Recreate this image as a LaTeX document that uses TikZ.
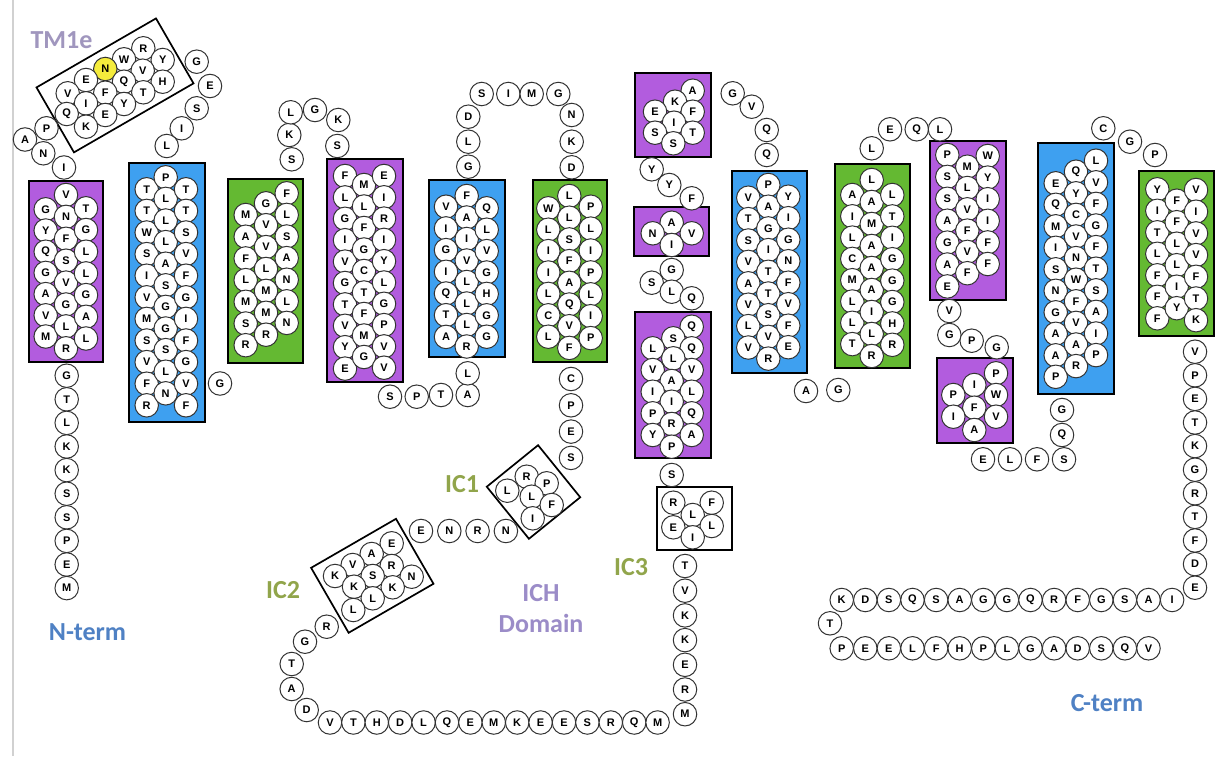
\documentclass[tikz,border=0pt]{standalone}
\usepackage{fontspec}
\setmainfont{Liberation Sans}
\newfontfamily\labfont{Carlito}
\definecolor{tmP}{RGB}{178,92,222}
\definecolor{tmB}{RGB}{62,160,240}
\definecolor{tmG}{RGB}{100,185,50}
\definecolor{hiY}{RGB}{245,236,60}
\definecolor{labPur}{RGB}{160,150,190}
\definecolor{labBlue}{RGB}{79,129,196}
\definecolor{labOlive}{RGB}{145,165,75}
\definecolor{labLav}{RGB}{155,140,200}
\tikzset{
 aa/.style={circle, draw=black!80, line width=1pt, fill=white, minimum size=23.5pt, inner sep=0pt, font=\fontsize{11}{11}\selectfont\bfseries},
 tmbox/.style={draw=black, line width=1.7pt, inner sep=0pt},
 lab/.style={font=\labfont\bfseries\fontsize{26}{26}\selectfont, inner sep=0pt},
}
\newcommand\rescol[5]{\foreach \l [count=\i from 0] in {#5} {\node[aa] (#1\i) at (#2,{#3+#4*\i}) {\l};}}
\newcommand\resrow[5]{\foreach \l [count=\i from 0] in {#5} {\node[aa] (#1\i) at ({#2+#4*\i},#3) {\l};}}
\newcommand\tmrect[6]{\node[tmbox, fill=#6, minimum width={#4pt-#2pt}, minimum height={#5pt-#3pt}] (#1) at ({(#2+#4)/2},{(#3+#5)/2}) {};}
\begin{document}
\begin{tikzpicture}[x=1pt,y=-1pt]
\useasboundingbox (0,0) rectangle (1225,762);
\fill[white] (0,0) rectangle (1225,762);
\draw[black!18, line width=2pt] (12.5,0) -- (12.5,756);
% ---------- boxes ----------
\tmrect{b1}{29}{181}{103}{362}{tmP}
\tmrect{b2}{129}{163}{205}{422}{tmB}
\tmrect{b3}{228}{179}{303}{363}{tmG}
\tmrect{b4}{327}{159}{403}{382}{tmP}
\tmrect{b5}{429}{180}{505}{357}{tmB}
\tmrect{b6}{533}{180}{607}{362}{tmG}
\tmrect{b6a}{635}{73}{711}{157}{tmP}
\tmrect{b6b}{634}{207}{709}{256}{tmP}
\tmrect{b6c}{635}{312}{711}{458}{tmP}
\tmrect{b7}{732}{171}{807}{373}{tmB}
\tmrect{b8}{835}{164}{910}{368}{tmG}
\tmrect{b9}{930}{141}{1006}{300}{tmP}
\tmrect{b9a}{937}{358}{1013}{443}{tmP}
\tmrect{b10}{1038}{143}{1114}{394}{tmB}
\tmrect{b11}{1139}{171}{1214}{336}{tmG}
\tmrect{bic3}{657}{487}{732}{550}{white}
\node[tmbox, fill=white, rotate=30, minimum width=138pt, minimum height=75pt] (btm1e) at (115,85.4) {};
\node[tmbox, fill=white, rotate=30, minimum width=98pt, minimum height=75pt] (bic2) at (372.3,575.8) {};
\node[tmbox, fill=white, rotate=39, minimum width=66pt, minimum height=67pt] (bic1) at (533.5,492) {};
% ---------- TM1e ----------
\node[aa] (e1) at (143.3,48.3) {R};
\node[aa] (e2) at (124,59.3) {W};
\node[aa] (e3) at (162.7,60) {Y};
\node[aa, fill=hiY] (e4) at (105.3,69) {N};
\node[aa] (e5) at (142.7,70.7) {V};
\node[aa] (e6) at (86,80) {E};
\node[aa] (e7) at (124,81.7) {Q};
\node[aa] (e8) at (162.7,81.7) {H};
\node[aa] (e9) at (67.7,93.3) {V};
\node[aa] (e10) at (105.3,92.7) {F};
\node[aa] (e11) at (143.3,92.3) {T};
\node[aa] (e12) at (86,103.3) {I};
\node[aa] (e13) at (124,104) {Y};
\node[aa] (e14) at (66.7,114) {Q};
\node[aa] (e15) at (105.3,115) {E};
\node[aa] (e16) at (86,126.7) {K};
\node[aa] (c1) at (25,139.5) {A};
\node[aa] (c2) at (46.5,128.3) {P};
\node[aa] (c3) at (43.3,153.3) {N};
\node[aa] (c4) at (64,167.5) {I};
\node[aa] (c5) at (196.7,61.7) {G};
\node[aa] (c6) at (210,86) {E};
\node[aa] (c7) at (196.7,108.3) {S};
\node[aa] (c8) at (181.7,128.3) {I};
\node[aa] (c9) at (166.7,146) {L};
% ---------- TM1 ----------
\rescol{t1L}{45.7}{209.3}{21.2}{G,Y,Q,G,A,V,M}
\rescol{t1C}{66}{195}{21.9}{V,N,F,S,V,G,L,R}
\rescol{t1R}{86}{208.3}{21.7}{T,G,L,L,G,A,L}
\rescol{nt}{66.7}{375.7}{23.6}{G,T,L,K,K,S,S,P,E,M}
% ---------- TM2 ----------
\rescol{t2L}{146.7}{189.3}{21.6}{T,T,W,S,I,V,M,S,V,F,R}
\rescol{t2C}{165.7}{177.3}{21.6}{P,L,L,L,A,S,G,G,S,L,N}
\rescol{t2R}{186}{189.3}{21.6}{T,T,S,V,F,G,I,F,G,V,F}
\node[aa] (c10) at (220,383.5) {G};
% ---------- TM3 ----------
\rescol{t3L}{245.7}{215}{21.7}{M,A,F,L,M,S,R}
\rescol{t3C}{266}{203.3}{21.9}{G,V,V,L,M,M,R}
\rescol{t3R}{286.7}{193.3}{21.6}{F,L,S,A,N,L,N}
\node[aa] (c11) at (291.7,159.3) {S};
\node[aa] (c12) at (289.3,135) {K};
\node[aa] (c13) at (290.7,112.3) {L};
\node[aa] (c14) at (315,110) {G};
\node[aa] (c15) at (338.3,120) {K};
\node[aa] (c16) at (337.3,146) {S};
% ---------- TM4 ----------
\rescol{t4L}{345}{176}{21.4}{F,L,G,I,V,G,T,V,Y,E}
\rescol{t4C}{364}{185}{21.5}{M,L,F,G,C,T,F,M,G}
\rescol{t4R}{384}{176}{21.3}{E,I,R,I,Y,L,G,P,V,V}
\node[aa] (c17) at (390,396.7) {S};
\node[aa] (c18) at (416.7,396.7) {P};
\node[aa] (c19) at (441,395) {T};
\node[aa] (c20) at (467.7,395) {A};
\node[aa] (c21) at (467.7,373.3) {L};
% ---------- TM5 ----------
\rescol{t5L}{446}{206.7}{21.7}{V,I,G,I,Q,T,A}
\rescol{t5C}{466.7}{196}{21.5}{F,A,I,V,L,L,L,R}
\rescol{t5R}{486.7}{208.3}{21.4}{Q,L,V,G,H,G,G}
\node[aa] (c22) at (468.3,166.7) {G};
\node[aa] (c23) at (468.3,141.7) {L};
\node[aa] (c24) at (468.3,116.7) {D};
\node[aa] (c25) at (481.7,94) {S};
\node[aa] (c26) at (508.3,94) {I};
\node[aa] (c27) at (531.7,94) {M};
\node[aa] (c28) at (558.3,94) {G};
\node[aa] (c29) at (571.7,115) {N};
\node[aa] (c30) at (571.7,141.7) {K};
\node[aa] (c31) at (571.7,167.3) {D};
% ---------- TM6 ----------
\rescol{t6L}{548.3}{208.3}{21.4}{W,L,I,I,L,C,L}
\rescol{t6C}{569.3}{196}{21.7}{L,L,S,F,A,Q,V,F}
\rescol{t6R}{590.7}{206.7}{21.9}{P,L,I,P,L,I,P}
\rescol{c6d}{571}{379}{26.3}{C,P,E,S}
% ---------- IC1 / IC2 ----------
\node[aa] (i1) at (526.7,476.7) {R};
\node[aa] (i2) at (546.7,483.3) {P};
\node[aa] (i3) at (507.3,490.7) {L};
\node[aa] (i4) at (531.7,496.7) {L};
\node[aa] (i5) at (551.7,505) {F};
\node[aa] (i6) at (532.7,518.3) {I};
\resrow{enrn}{421}{531}{28.3}{E,N,R,N}
\node[aa] (j1) at (391.7,543.3) {E};
\node[aa] (j2) at (371.7,554) {A};
\node[aa] (j3) at (352.7,565) {V};
\node[aa] (j4) at (391.7,566) {R};
\node[aa] (j5) at (335,576) {K};
\node[aa] (j6) at (372.7,576) {S};
\node[aa] (j7) at (411.7,576.7) {N};
\node[aa] (j8) at (354,586.7) {K};
\node[aa] (j9) at (392.7,587.3) {K};
\node[aa] (j10) at (372.7,598.3) {L};
\node[aa] (j11) at (353.3,610) {L};
\node[aa] (c32) at (326.7,626.7) {R};
\node[aa] (c33) at (305,641.7) {G};
\node[aa] (c34) at (291.7,664) {T};
\node[aa] (c35) at (291.7,689) {A};
\node[aa] (c36) at (306.7,710) {D};
\resrow{bot}{330}{722.5}{23.4}{V,T,H,D,L,Q,E,M,K,E,E,S,R,Q,M}
\rescol{ic3c}{685}{566}{24.7}{T,V,K,K,E,R,M}
% ---------- middle purple boxes ----------
\node[aa] (m1) at (692.7,90.7) {A};
\node[aa] (m2) at (675,101.7) {K};
\node[aa] (m3) at (655,111.7) {E};
\node[aa] (m4) at (692.7,111.7) {F};
\node[aa] (m5) at (674,122.7) {I};
\node[aa] (m6) at (655,132.7) {S};
\node[aa] (m7) at (692.7,132.7) {T};
\node[aa] (m8) at (673.3,143.3) {S};
\node[aa] (c37) at (651.7,169.3) {Y};
\node[aa] (c38) at (669.3,185) {Y};
\node[aa] (c39) at (691.7,198.3) {F};
\node[aa] (m9) at (671.7,222.7) {A};
\node[aa] (m10) at (652.7,233.3) {N};
\node[aa] (m11) at (691.7,233.3) {V};
\node[aa] (m12) at (671.7,245) {I};
\node[aa] (c40) at (671.7,270) {G};
\node[aa] (c41) at (651.7,282.7) {S};
\node[aa] (c42) at (671.7,291.7) {L};
\node[aa] (c43) at (691.7,298.3) {Q};
\node[aa] (n1) at (691.7,326.7) {Q};
\node[aa] (n2) at (673.3,338.3) {S};
\node[aa] (n3) at (652.7,348.3) {L};
\node[aa] (n4) at (691.7,348.3) {Q};
\node[aa] (n5) at (673.3,358.3) {L};
\node[aa] (n6) at (652.7,370) {V};
\node[aa] (n7) at (691.7,370) {V};
\node[aa] (n8) at (671.7,381) {A};
\node[aa] (n9) at (652.7,391.7) {I};
\node[aa] (n10) at (691.7,391.7) {L};
\node[aa] (n11) at (671.7,401.7) {I};
\node[aa] (n12) at (652.7,413.3) {P};
\node[aa] (n13) at (691.7,413.3) {Q};
\node[aa] (n14) at (671.7,424) {R};
\node[aa] (n15) at (652.7,435) {Y};
\node[aa] (n16) at (691.7,435) {A};
\node[aa] (n17) at (671.7,446.7) {P};
\node[aa] (c44) at (671.7,475) {S};
\node[aa] (k1) at (673.3,502.7) {R};
\node[aa] (k2) at (711.7,502.7) {F};
\node[aa] (k3) at (692.7,515) {L};
\node[aa] (k4) at (673.3,527.3) {E};
\node[aa] (k5) at (711.7,526) {L};
\node[aa] (k6) at (692.7,537.3) {I};
% ---------- TM7 ----------
\node[aa] (c45) at (732.7,93.3) {G};
\node[aa] (c46) at (751.7,106.7) {V};
\node[aa] (c47) at (766.7,130) {Q};
\node[aa] (c48) at (766.7,155) {Q};
\rescol{t7L}{748.3}{197.7}{21.4}{V,T,S,V,A,V,L,V}
\rescol{t7C}{768.3}{185}{21.7}{P,A,G,I,T,T,S,V,R}
\rescol{t7R}{788.3}{196.7}{21.5}{Y,I,G,N,F,V,F,E}
\node[aa] (c49) at (806,391) {A};
\node[aa] (c50) at (838.3,390) {G};
% ---------- TM8 ----------
\rescol{t8L}{852.3}{195}{21.3}{A,I,L,C,M,L,L,T}
\rescol{t8C}{871.7}{180}{22}{L,A,M,A,A,A,I,L,R}
\rescol{t8R}{892.3}{195}{21.4}{L,T,I,G,G,G,H,R}
\node[aa] (c51) at (871.7,148.3) {L};
\node[aa] (c52) at (890,129.3) {E};
\node[aa] (c53) at (916.7,129.3) {Q};
\node[aa] (c54) at (940,129.3) {L};
% ---------- TM9 ----------
\rescol{t9L}{947.3}{155}{21.9}{P,S,S,A,G,A,E}
\rescol{t9C}{967.3}{166.7}{21.3}{M,L,V,F,V,F}
\rescol{t9R}{987.7}{156}{21.6}{W,Y,I,I,F,F}
\node[aa] (c55) at (949.3,311) {V};
\node[aa] (c56) at (949.3,335) {G};
\node[aa] (c57) at (971.7,340.7) {P};
\node[aa] (c58) at (996.7,347.3) {G};
\node[aa] (p1) at (996,373.3) {P};
\node[aa] (p2) at (974.3,385) {I};
\node[aa] (p3) at (953.3,395) {P};
\node[aa] (p4) at (996,395) {W};
\node[aa] (p5) at (974.3,407.7) {F};
\node[aa] (p6) at (953.3,416.7) {I};
\node[aa] (p7) at (996,416.7) {V};
\node[aa] (p8) at (974.3,430) {A};
\resrow{elfs}{983}{459.3}{27}{E,L,F,S}
\node[aa] (c59) at (1062,410) {G};
\node[aa] (c60) at (1062,435) {Q};
% ---------- TM10 ----------
\rescol{t10L}{1055.7}{183.3}{21.5}{E,Q,M,I,S,N,G,A,A,P}
\rescol{t10C}{1076}{171.7}{21.6}{Q,Y,C,V,N,W,F,V,A,R}
\rescol{t10R}{1096}{160.7}{21.6}{L,V,F,G,F,T,S,A,I,P}
\node[aa] (c61) at (1103.3,128.3) {C};
\node[aa] (c62) at (1130,141.7) {G};
\node[aa] (c63) at (1155,155) {P};
% ---------- TM11 ----------
\rescol{t11L}{1157.3}{189.3}{21.5}{Y,I,T,L,F,F,F}
\rescol{t11C}{1176.7}{200.7}{21.5}{F,F,L,L,I,Y}
\rescol{t11R}{1196}{190}{21.7}{V,I,V,V,F,T,K}
\rescol{ct}{1195}{351.7}{23.6}{V,P,E,T,K,G,R,T,F,D,E}
\resrow{ctr}{841.7}{600}{23.6}{K,D,S,Q,S,A,G,G,Q,R,F,G,S,A,I}
\node[aa] (c64) at (830,623.3) {T};
\resrow{ctq}{841.7}{648.3}{23.6}{P,E,E,L,F,H,P,L,G,A,D,S,Q,V}
% ---------- labels ----------
\node[lab, text=labPur] (lTM1e) at (61.5,40) {TM1e};
\node[lab, text=labBlue] (lN) at (87.5,632) {N-term};
\node[lab, text=labBlue] (lC) at (1107,703) {C-term};
\node[lab, text=labOlive] (lIC1) at (462,484) {IC1};
\node[lab, text=labOlive] (lIC2) at (283,590) {IC2};
\node[lab, text=labOlive] (lIC3) at (631,567) {IC3};
\node[lab, text=labLav] (lICH) at (541,593) {ICH};
\node[lab, text=labLav] (lDom) at (541,623) {Domain};
\end{tikzpicture}
\end{document}
